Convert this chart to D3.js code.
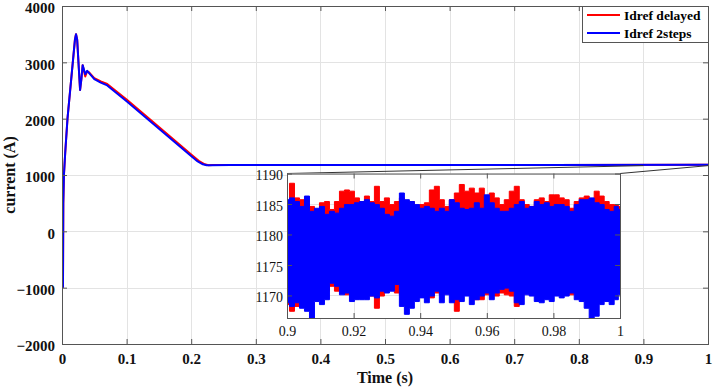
<!DOCTYPE html>
<html>
<head>
<meta charset="utf-8">
<script src="https://cdn.jsdelivr.net/npm/d3@7"></script>
<style>
body { margin: 0; background: #fff; }
text { font-family: "Liberation Serif", "Times New Roman", serif; }
</style>
</head>
<body>
<script>
/*
*    idref response, full run + zoom on the last 0.1 s
*/

var xTicks = [0, 0.1, 0.2, 0.3, 0.4, 0.5, 0.6, 0.7, 0.8, 0.9, 1];
var yTicks = [-2000, -1000, 0, 1000, 2000, 3000, 4000];
var zoomXTicks = [0.9, 0.92, 0.94, 0.96, 0.98, 1];
var zoomYTicks = [1170, 1175, 1180, 1185, 1190];

var seriesNames = ["Idref delayed", "Idref 2steps"];

// full run
var timeDelayed = [0.0015, 0.002, 0.003, 0.005, 0.0085, 0.02, 0.0217, 0.0235, 0.026, 0.028, 0.03, 0.032, 0.0345, 0.036, 0.039, 0.042, 0.05, 0.06, 0.07, 0.1, 0.136, 0.2, 0.213, 0.221, 0.227, 0.233, 0.26, 0.5, 0.75, 1];
var idrefDelayed = [-1000, 500, 1000, 1400, 2000, 3400, 3500, 3400, 2900, 2510, 2700, 2950, 2820, 2750, 2840, 2820, 2720, 2660, 2615, 2340, 1990, 1365, 1240, 1190, 1172, 1176, 1179, 1179, 1179, 1181];

var time2steps = [0.0015, 0.002, 0.003, 0.005, 0.0085, 0.02, 0.0217, 0.0235, 0.026, 0.028, 0.03, 0.032, 0.0345, 0.036, 0.039, 0.042, 0.05, 0.06, 0.07, 0.1, 0.136, 0.198, 0.21, 0.218, 0.224, 0.23, 0.26, 0.5, 0.75, 1];
var idref2steps = [-1000, 500, 1000, 1400, 2000, 3400, 3500, 3400, 2900, 2510, 2700, 2950, 2850, 2790, 2850, 2810, 2700, 2640, 2590, 2310, 1960, 1353, 1240, 1190, 1172, 1175, 1178, 1178, 1178, 1180];

// zoom window 0.9 - 1 s: ripple band (top / bottom of the oscillation)
var zoomTime = [0.9, 0.9015, 0.903, 0.9045, 0.906, 0.9075, 0.909, 0.9105, 0.912, 0.9135, 0.915, 0.9165, 0.918, 0.9195, 0.921, 0.9225, 0.924, 0.9255, 0.927, 0.9285, 0.93, 0.9315,
    0.933, 0.9345, 0.936, 0.9375, 0.939, 0.9405, 0.942, 0.9435, 0.945, 0.9465, 0.948, 0.9495, 0.951, 0.9525, 0.954, 0.9555, 0.957, 0.9585, 0.96, 0.9615, 0.963, 0.9645,
    0.966, 0.9675, 0.969, 0.9705, 0.972, 0.9735, 0.975, 0.9765, 0.978, 0.9795, 0.981, 0.9825, 0.984, 0.9855, 0.987, 0.9885, 0.99, 0.9915, 0.993, 0.9945, 0.996, 0.9975, 0.999, 1];

var delayedHigh = [1185.5, 1188.4, 1186.0, 1185.7, 1184.9, 1184.6, 1183.8, 1185.2, 1185.4, 1184.1, 1185.4, 1187.1, 1187.3, 1187.1, 1186.0, 1185.4, 1186.3, 1185.4, 1187.9, 1185.4, 1186.0, 1184.9,
    1185.4, 1186.0, 1184.9, 1185.4, 1184.6, 1184.9, 1185.2, 1187.3, 1187.9, 1185.7, 1184.6, 1185.7, 1186.8, 1188.2, 1187.1, 1187.6, 1186.8, 1187.6, 1186.0, 1186.8, 1186.0, 1184.9,
    1185.7, 1187.1, 1187.9, 1185.7, 1184.9, 1184.6, 1185.7, 1186.0, 1185.4, 1186.5, 1186.5, 1186.0, 1185.7, 1184.3, 1185.4, 1186.0, 1186.3, 1185.7, 1187.1, 1186.3, 1185.4, 1184.9, 1184.9, 1184.6];
var delayedLow = [1168.5, 1167.4, 1168.2, 1169.0, 1169.3, 1169.6, 1169.9, 1170.1, 1170.7, 1171.5, 1170.7, 1170.7, 1170.1, 1170.4, 1170.1, 1170.1, 1170.7, 1169.9, 1167.9, 1169.9, 1170.7, 1171.2,
    1170.4, 1170.1, 1169.6, 1170.1, 1170.1, 1170.4, 1170.7, 1169.6, 1170.4, 1170.1, 1170.4, 1170.1, 1167.4, 1170.1, 1170.4, 1170.1, 1169.3, 1169.3, 1170.1, 1170.4, 1169.9, 1170.4,
    1170.1, 1169.9, 1168.2, 1170.1, 1170.4, 1170.1, 1170.4, 1170.1, 1170.4, 1170.1, 1170.4, 1170.1, 1170.4, 1170.1, 1170.4, 1169.9, 1169.6, 1169.9, 1169.9, 1169.6, 1169.9, 1170.1, 1170.4, 1170.7];

var twostepsHigh = [1185.7, 1186.0, 1185.4, 1184.6, 1186.3, 1183.8, 1184.3, 1184.6, 1183.3, 1183.8, 1183.5, 1184.3, 1184.9, 1184.9, 1185.2, 1185.4, 1185.7, 1185.2, 1184.9, 1184.3, 1183.3, 1183.0,
    1183.8, 1186.8, 1185.7, 1185.4, 1184.9, 1184.3, 1184.6, 1184.3, 1183.8, 1184.3, 1183.8, 1185.7, 1185.2, 1184.3, 1184.1, 1184.3, 1185.2, 1184.3, 1186.5, 1185.2, 1184.3, 1183.8,
    1183.8, 1184.3, 1184.9, 1185.4, 1184.3, 1184.6, 1185.4, 1184.9, 1185.2, 1184.6, 1184.9, 1184.9, 1184.6, 1183.8, 1184.9, 1185.7, 1185.7, 1186.0, 1185.2, 1184.9, 1184.1, 1183.8, 1184.6, 1184.1];
var twostepsLow = [1168.8, 1168.2, 1168.8, 1167.9, 1167.4, 1166.3, 1169.0, 1168.5, 1169.3, 1172.0, 1171.5, 1170.1, 1170.4, 1169.0, 1169.3, 1169.3, 1169.3, 1169.9, 1169.6, 1170.7, 1170.4, 1170.7,
    1171.8, 1168.2, 1166.9, 1167.9, 1169.0, 1169.6, 1168.8, 1169.9, 1170.7, 1168.8, 1170.1, 1168.8, 1169.3, 1169.0, 1169.9, 1168.5, 1169.3, 1169.9, 1170.4, 1169.3, 1170.4, 1171.0,
    1171.2, 1170.7, 1168.8, 1168.5, 1170.1, 1169.9, 1169.0, 1168.8, 1169.3, 1169.0, 1169.9, 1169.6, 1169.9, 1170.4, 1169.3, 1169.0, 1167.9, 1166.3, 1166.6, 1168.5, 1169.0, 1168.5, 1169.3, 1170.1];

var colors = ["#ff0000", "#0000ff"];

var width = 713;
var height = 390;
var plot = {left: 62, top: 6, right: 708, bottom: 344};
var inset = {left: 287, top: 173.5, right: 620, bottom: 318};
var axisColor = "#555";
var gridColor = "#e3e3e3";

var svg = d3.select("body")
    .append("svg")
        .attr("width", width)
        .attr("height", height);

var x = d3.scaleLinear().domain([0, 1]).range([plot.left, plot.right]);
var y = d3.scaleLinear().domain([-2000, 4000]).range([plot.bottom, plot.top]);
var zx = d3.scaleLinear().domain([0.9, 1]).range([inset.left, inset.right]);
var zy = d3.scaleLinear().domain([1166.3, 1190]).range([inset.bottom, inset.top]);

var defs = svg.append("defs");
defs.append("clipPath").attr("id", "clip-main")
    .append("rect")
        .attr("x", plot.left).attr("y", plot.top)
        .attr("width", plot.right - plot.left).attr("height", plot.bottom - plot.top);
defs.append("clipPath").attr("id", "clip-zoom")
    .append("rect")
        .attr("x", inset.left).attr("y", inset.top)
        .attr("width", inset.right - inset.left).attr("height", inset.bottom - inset.top);

// light grid behind the data
function drawGrid(g, xs, ys, xt, yt, box) {
    var grid = g.append("g").attr("shape-rendering", "crispEdges");
    grid.selectAll(".gx").data(xt.slice(1, -1)).enter()
        .append("line")
            .attr("x1", (d) => Math.round(xs(d)) + 0.5).attr("x2", (d) => Math.round(xs(d)) + 0.5)
            .attr("y1", box.top).attr("y2", box.bottom)
            .attr("stroke", gridColor);
    grid.selectAll(".gy").data(yt).enter()
        .append("line")
            .attr("y1", (d) => Math.round(ys(d)) + 0.5).attr("y2", (d) => Math.round(ys(d)) + 0.5)
            .attr("x1", box.left).attr("x2", box.right)
            .attr("stroke", gridColor);
}

function styleAxis(sel, fontSize, weight) {
    sel.select(".domain").remove();
    sel.selectAll(".tick line").attr("stroke", axisColor);
    sel.selectAll("text")
        .attr("font-size", fontSize)
        .attr("font-weight", weight)
        .attr("fill", "#111")
        .style("font-family", "'Liberation Serif', serif");
}

// ticks on four sides and the frame
function frameAxes(g, xs, ys, xt, yt, box, fontSize, weight, xpad, ypad) {
    g.append("g")
        .attr("transform", "translate(0," + box.bottom + ")")
        .call(d3.axisBottom(xs).tickValues(xt).tickFormat(d3.format("~g")).tickSizeInner(-5).tickSizeOuter(0).tickPadding(xpad))
        .call(styleAxis, fontSize, weight);
    g.append("g")
        .attr("transform", "translate(" + box.left + ",0)")
        .call(d3.axisLeft(ys).tickValues(yt).tickFormat(d3.format("d")).tickSizeInner(-5).tickSizeOuter(0).tickPadding(ypad))
        .call(styleAxis, fontSize, weight)
        .selectAll("text").attr("dy", "0.45em");
    g.append("g")
        .attr("transform", "translate(0," + box.top + ")")
        .call(d3.axisTop(xs).tickValues(xt).tickFormat("").tickSizeInner(-5).tickSizeOuter(0))
        .call(styleAxis, fontSize, weight);
    g.append("g")
        .attr("transform", "translate(" + box.right + ",0)")
        .call(d3.axisRight(ys).tickValues(yt).tickFormat("").tickSizeInner(-5).tickSizeOuter(0))
        .call(styleAxis, fontSize, weight);
    g.append("rect")
        .attr("x", box.left + 0.5).attr("y", box.top + 0.5)
        .attr("width", box.right - box.left).attr("height", box.bottom - box.top)
        .attr("fill", "none")
        .attr("stroke", axisColor);
}

// main axes
var main = svg.append("g");
drawGrid(main, x, y, xTicks, yTicks.slice(1, -1), plot);

var line = d3.line()
    .x((d) => x(d[0]))
    .y((d) => y(d[1]));

var runs = [
    d3.zip(timeDelayed, idrefDelayed),
    d3.zip(time2steps, idref2steps)
];

main.append("g").attr("clip-path", "url(#clip-main)")
    .selectAll("path").data(runs).enter()
    .append("path")
        .attr("d", line)
        .attr("fill", "none")
        .attr("stroke", (d, i) => colors[i])
        .attr("stroke-width", 2)
        .attr("stroke-linejoin", "round");

frameAxes(main, x, y, xTicks, yTicks, plot, "15px", "bold", 9, 7);

// lines from the zoomed region to the inset
var zoomFloor = zy.domain()[0];
main.append("line")
    .attr("x1", x(0.9)).attr("y1", y(zoomFloor))
    .attr("x2", inset.left).attr("y2", inset.top)
    .attr("stroke", "#333").attr("stroke-width", 1);
main.append("line")
    .attr("x1", x(1)).attr("y1", y(zoomFloor))
    .attr("x2", inset.right).attr("y2", inset.top)
    .attr("stroke", "#333").attr("stroke-width", 1);

// inset
var zoomG = svg.append("g");
zoomG.append("rect")
    .attr("x", inset.left).attr("y", inset.top)
    .attr("width", inset.right - inset.left).attr("height", inset.bottom - inset.top)
    .attr("fill", "#fff");
drawGrid(zoomG, zx, zy, zoomXTicks, zoomYTicks, inset);

var band = d3.area()
    .curve(d3.curveStep)
    .x((d) => zx(d[0]))
    .y0((d) => zy(d[2]))
    .y1((d) => zy(d[1]));

var bands = [
    d3.zip(zoomTime, delayedHigh, delayedLow),
    d3.zip(zoomTime, twostepsHigh, twostepsLow)
];

zoomG.append("g").attr("clip-path", "url(#clip-zoom)")
    .selectAll("path").data(bands).enter()
    .append("path")
        .attr("d", band)
        .attr("fill", (d, i) => colors[i])
        .attr("stroke", (d, i) => colors[i])
        .attr("stroke-width", 1);

frameAxes(zoomG, zx, zy, zoomXTicks, zoomYTicks, inset, "14px", "normal", 8, 4);

// legend
var legend = svg.append("g").attr("transform", "translate(582,6)");
legend.append("rect")
    .attr("x", 0.5).attr("y", 0.5)
    .attr("width", 126).attr("height", 36)
    .attr("fill", "#fff")
    .attr("stroke", axisColor);
seriesNames.forEach((name, i) => {
    legend.append("line")
        .attr("x1", 5).attr("x2", 38)
        .attr("y1", 9 + i * 18).attr("y2", 9 + i * 18)
        .attr("stroke", colors[i])
        .attr("stroke-width", 2);
    legend.append("text")
        .attr("x", 42)
        .attr("y", 14 + i * 18)
        .attr("font-size", "13.5px")
        .attr("font-weight", "bold")
        .attr("fill", "#000")
        .text(name);
});

// axis titles
svg.append("text")
    .attr("x", (plot.left + plot.right) / 2)
    .attr("y", 383)
    .attr("font-size", "16px")
    .attr("font-weight", "bold")
    .attr("text-anchor", "middle")
    .style("fill", "#111")
    .text("Time (s)");

svg.append("text")
    .attr("transform", "translate(15," + (plot.top + plot.bottom) / 2 + ") rotate(-90)")
    .attr("font-size", "16px")
    .attr("font-weight", "bold")
    .attr("text-anchor", "middle")
    .style("fill", "#111")
    .text("current (A)");
</script>
</body>
</html>
